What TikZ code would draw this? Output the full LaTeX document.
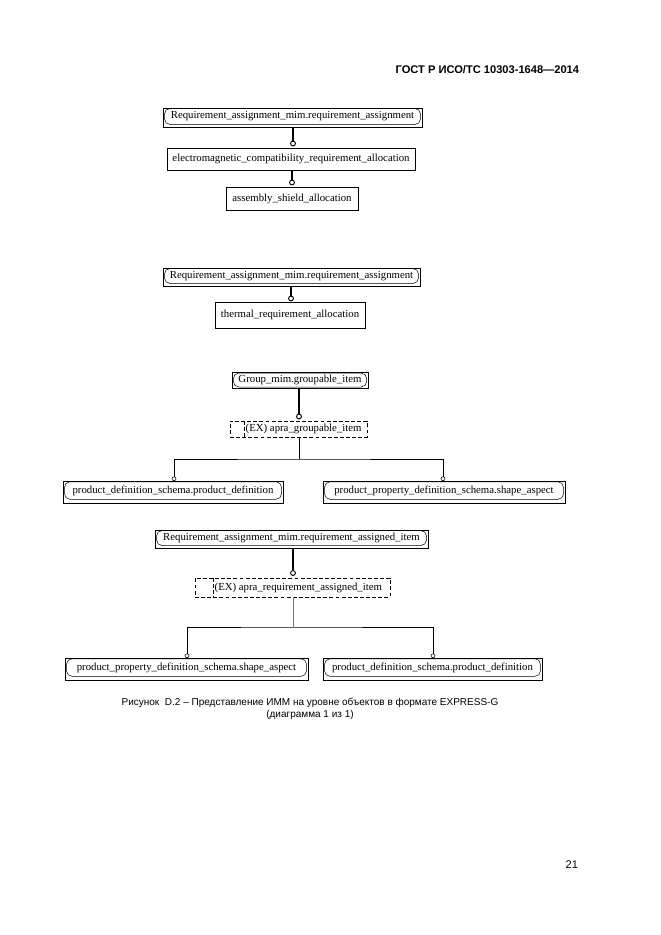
\documentclass[tikz,border=0pt]{standalone}
\usepackage{fontspec}
\setmainfont{Liberation Serif}
\newfontfamily\arialfont{Liberation Sans}
\usetikzlibrary{calc}
\begin{document}
\begin{tikzpicture}[x=0.9pt,y=-0.9pt,
  boxfont/.style={font=\fontsize{9.7}{11}\selectfont},
  ent/.style={draw, line width=0.6pt, inner sep=0pt, boxfont},
  refo/.style={draw, line width=0.6pt, inner sep=0pt},
  refi/.style={draw, line width=0.45pt, rounded corners=5pt, inner sep=0pt, boxfont},
  dsh/.style={draw, dashed, dash pattern=on 3.5pt off 2pt, line width=0.55pt, inner sep=0pt, boxfont},
  ocirc/.style={circle, draw, line width=0.85pt, inner sep=0pt, minimum size=4.4pt, fill=white},
  scirc/.style={circle, draw, line width=0.5pt, inner sep=0pt, minimum size=3.6pt, fill=white},
  lk/.style={line width=1.1pt},
  lkb/.style={line width=1.7pt},
  tl/.style={line width=0.7pt},
  gl/.style={line width=0.6pt, draw=black!55}
]
\useasboundingbox[fill=white] (0,0) rectangle (661,935);

% header
\node[font=\arialfont\bfseries\fontsize{10}{12}\selectfont, anchor=east] (hdr) at (583,70) {ГОСТ Р ИСО/ТС 10303-1648—2014};

% ---------- group 1
\node[refo, minimum width=233.1pt, minimum height=17.1pt] (A1) at (292.5,117.5) {};
\node[refi, minimum width=230.4pt, minimum height=14.4pt, yshift=0.9pt] (A1t) at (A1) {Requirement\_assignment\_mim.requirement\_assignment};
\node[ent, minimum width=223.2pt, minimum height=19.8pt] (B1) at (291,159) {electromagnetic\_compatibility\_requirement\_allocation};
\node[ent, minimum width=118.8pt, minimum height=20.7pt] (C1) at (292,198.5) {assembly\_shield\_allocation};
\node[ocirc] (c1) at (293,143.5) {};
\node[ocirc] (c2) at (292,182.5) {};
\draw[lk] (A1.south -| c1) -- (c1.north);
\draw[lk] (B1.south -| c2) -- (c2.north);

% ---------- group 2
\node[refo, minimum width=231.3pt, minimum height=16.2pt] (A2) at (291.5,277) {};
\node[refi, minimum width=228.6pt, minimum height=13.5pt, yshift=0.9pt] (A2t) at (A2) {Requirement\_assignment\_mim.requirement\_assignment};
\node[ent, minimum width=135pt, minimum height=23.4pt] (B2) at (290,315) {thermal\_requirement\_allocation};
\node[ocirc] (c3) at (291,298.5) {};
\draw[lkb] (A2.south -| c3) -- (c3.north);

% ---------- group 3
\node[refo, minimum width=122.4pt, minimum height=14.4pt] (A3) at (300,380.5) {};
\node[refi, minimum width=120pt, minimum height=12.6pt, yshift=0.45pt] (A3t) at (A3) {Group\_mim.groupable\_item};
\node[dsh, minimum width=123.3pt, minimum height=14.4pt] (D3) at (298.5,429) {};
\node[boxfont, anchor=west, inner sep=0pt] (D3t) at (245.5,429) {(EX) apra\_groupable\_item};
\draw[dashed, dash pattern=on 3.5pt off 2pt, line width=0.55pt] (D3.north -| 244,0) -- (D3.south -| 244,0);
\node[ocirc] (c4) at (299,416.5) {};
\draw[lkb] (A3.south -| c4) -- (c4.north);
\coordinate (h3) at (299,459);
\draw[tl] (D3.south -| h3) -- (h3);
\node[refo, minimum width=198pt, minimum height=19.8pt] (E3L) at (173,492) {};
\node[refi, minimum width=195.3pt, minimum height=15.8pt, yshift=1.3pt] (E3Lt) at (E3L) {product\_definition\_schema.product\_definition};
\node[refo, minimum width=217.8pt, minimum height=19.8pt] (E3R) at (444,492) {};
\node[refi, minimum width=215.1pt, minimum height=15.8pt, yshift=1.3pt] (E3Rt) at (E3R) {product\_property\_definition\_schema.shape\_aspect};
\node[scirc] (c5) at (174,478.8) {};
\node[scirc] (c6) at (443,478.8) {};
\draw[tl] (c5.north) |- (h3) -| (c6.north);

% ---------- group 4
\node[refo, minimum width=245.7pt, minimum height=16.2pt] (A4) at (291.5,539) {};
\node[refi, minimum width=243pt, minimum height=13.5pt, yshift=0.9pt] (A4t) at (A4) {Requirement\_assignment\_mim.requirement\_assigned\_item};
\node[dsh, minimum width=175.5pt, minimum height=17.1pt] (D4) at (292.5,587.5) {};
\node[boxfont, anchor=west, inner sep=0pt] (D4t) at (214.5,587.5) {(EX) apra\_requirement\_assigned\_item};
\draw[dashed, dash pattern=on 3.5pt off 2pt, line width=0.55pt] (D4.north -| 213,0) -- (D4.south -| 213,0);
\node[ocirc] (c7) at (293,573) {};
\draw[lk] (A4.south -| c7) -- (c7.north);
\coordinate (h4) at (293,627);
\draw[gl] (D4.south -| h4) -- (h4);
\node[refo, minimum width=218.7pt, minimum height=19.8pt] (E4L) at (186.5,669) {};
\node[refi, minimum width=216pt, minimum height=15.8pt, yshift=1.3pt] (E4Lt) at (E4L) {product\_property\_definition\_schema.shape\_aspect};
\node[refo, minimum width=197.1pt, minimum height=19.8pt] (E4R) at (432.5,669) {};
\node[refi, minimum width=194.4pt, minimum height=15.8pt, yshift=1.3pt] (E4Rt) at (E4R) {product\_definition\_schema.product\_definition};
\node[scirc] (c8) at (187,655.8) {};
\node[scirc] (c9) at (433,655.8) {};
\draw[tl] (c8.north) |- (h4) -| (c9.north);

% caption
\node[font=\arialfont\fontsize{9}{10.5}\selectfont, align=center] (cap) at (310,709) {Рисунок\ \ D.2 – Представление ИММ на уровне объектов в формате EXPRESS-G\\(диаграмма 1 из 1)};

% page number
\node[font=\arialfont\fontsize{10}{12}\selectfont, anchor=east] (pg) at (582,865) {21};
\end{tikzpicture}
\end{document}
